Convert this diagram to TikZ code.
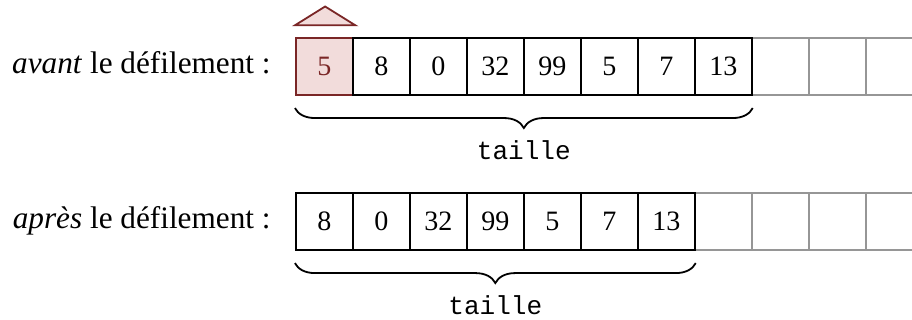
\documentclass[tikz,border=0pt]{standalone}
\usepackage{fontspec}
\setmainfont{Liberation Serif}
\setmonofont{Liberation Mono}
\usetikzlibrary{positioning,backgrounds,decorations.pathreplacing}
\definecolor{headred}{RGB}{122,38,38}
\definecolor{headfill}{RGB}{242,220,219}
\definecolor{slotgray}{RGB}{150,150,150}
\def\taille{taille}

\begin{document}
\begin{tikzpicture}[node distance=1cm,font=\fontsize{14}{16}\selectfont,
    cell/.style={draw,line width=0.9pt,minimum size=1cm,inner sep=0pt},
    freecell/.style={cell,draw=slotgray},
    headcell/.style={cell,draw=headred,fill=headfill,text=headred},
    brace/.style={decorate,decoration={brace,mirror,amplitude=0.35cm},line width=0.9pt},
    rowlabel/.style={anchor=base east,inner sep=0pt,font=\fontsize{15.6}{18}\selectfont},
    sizelabel/.style={font=\ttfamily\fontsize{13}{15}\selectfont}]
    \useasboundingbox (-5.19,0) rectangle (10.81,-5.61);

    \begin{scope}
        \node[headcell] (a1) at (0.5,-1.17) {5};
        \foreach \v [count=\i from 2, remember=\i as \j (initially 1)] in {8,0,32,99,5,7,13}
            \node[cell,right of=a\j] (a\i) {\v};
        \begin{scope}[on background layer]
            \foreach \i [remember=\i as \j (initially 8)] in {9,10,11}
                \node[freecell,right of=a\j] (a\i) {};
        \end{scope}
        \draw[headred,fill=headfill,line width=0.9pt] ([yshift=0.21cm]a1.north west) -- ++(0.53,0.33) -- ++(0.53,-0.33) -- cycle;
        \draw[brace] ([yshift=-0.21cm]a1.south west) -- ([yshift=-0.21cm]a8.south east)
            node[midway,yshift=-0.74cm,sizelabel] (taillea) {\taille};
        \node[rowlabel] (avant) at ([xshift=-0.42cm,yshift=-0.114cm]a1.west) {\textit{avant} le défilement :};
    \end{scope}

    \begin{scope}
        \node[cell,below of=a1,node distance=2.72cm] (b1) {8};
        \foreach \v [count=\i from 2, remember=\i as \j (initially 1)] in {0,32,99,5,7,13}
            \node[cell,right of=b\j] (b\i) {\v};
        \begin{scope}[on background layer]
            \foreach \i [remember=\i as \j (initially 7)] in {8,9,10,11}
                \node[freecell,right of=b\j] (b\i) {};
        \end{scope}
        \draw[brace] ([yshift=-0.21cm]b1.south west) -- ([yshift=-0.21cm]b7.south east)
            node[midway,yshift=-0.74cm,sizelabel] (tailleb) {\taille};
        \node[rowlabel] (apres) at ([xshift=-0.42cm,yshift=-0.114cm]b1.west) {\textit{après} le défilement :};
    \end{scope}

\end{tikzpicture}
\end{document}
